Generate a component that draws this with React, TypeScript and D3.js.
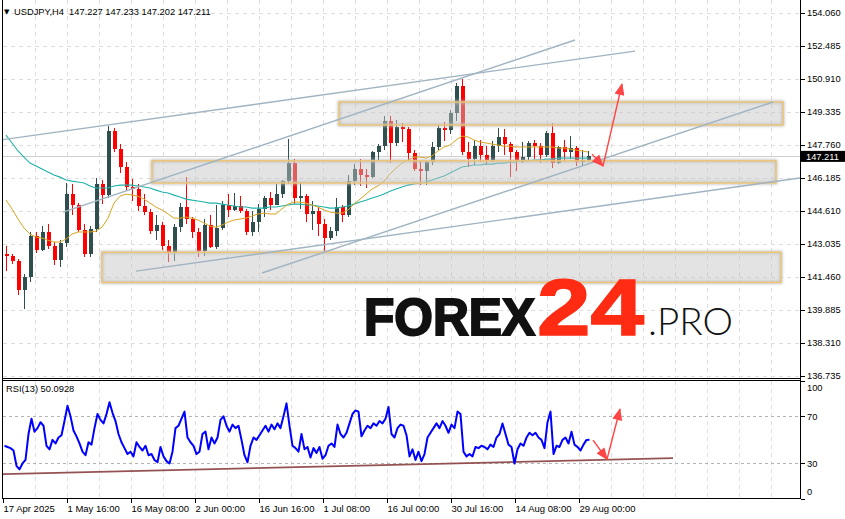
import React from "react";
import * as d3 from "d3";

// daily OHLC (H4 bars grouped by trading day, 17 Apr 2025 .. 1 Sep 2025)
const opens = [
  142.55, 142.45, 142.2, 140.85, 141.45, 143.4, 142.75, 143.6, 142.95, 142.25,
  143.05, 145.4, 144.9, 143.7, 142.55, 143.75, 145.9, 145.35, 148.4, 147.55,
  146.7, 145.75, 145.65, 144.85, 144.55, 143.65, 143.95, 142.95, 142.6, 143.85,
  144.8, 144.2, 143.6, 142.7, 143.95, 142.9, 143.8, 144.9, 144.65, 144.85,
  144.6, 143.6, 144.1, 144.7, 145.2, 144.9, 145.4, 146.05, 146.9, 145.2,
  145.3, 144.45, 144.6, 144.0, 143.3, 143.65, 144.8, 144.4, 146.05, 146.6,
  146.3, 146.25, 147.4, 147.7, 148.9, 147.85, 148.6, 148.5, 147.35, 146.6,
  146.5, 146.95, 147.65, 148.55, 148.45, 149.3, 150.55, 147.4, 147.1, 147.7,
  147.3, 147.05, 147.7, 148.15, 147.8, 147.4, 147.0, 147.2, 147.85, 147.7,
  147.3, 148.35, 146.9, 147.65, 147.4, 147.6, 146.95, 147.05,
];
const highs = [
  142.95, 142.55, 142.3, 141.6, 143.6, 143.6, 143.9, 144.0, 143.1, 143.2,
  145.95, 145.9, 145.0, 144.0, 143.9, 146.2, 146.1, 148.65, 148.55, 147.8,
  146.95, 146.15, 145.9, 145.4, 144.7, 144.4, 144.1, 143.2, 144.0, 145.0,
  146.25, 144.3, 143.8, 144.2, 144.4, 144.9, 145.1, 145.4, 145.45, 145.3,
  144.7, 144.6, 144.95, 145.3, 145.5, 145.9, 146.1, 148.05, 147.1, 146.0,
  145.4, 145.1, 144.8, 144.2, 143.85, 145.2, 144.9, 146.3, 146.85, 147.1,
  146.6, 147.45, 147.8, 149.15, 149.15, 148.95, 148.8, 148.6, 147.5, 147.0,
  147.0, 147.9, 148.7, 148.85, 149.45, 150.7, 150.9, 147.9, 148.0, 148.0,
  147.7, 147.95, 148.55, 148.5, 147.9, 147.5, 147.9, 147.95, 148.0, 147.85,
  148.4, 148.8, 147.7, 148.0, 148.2, 147.7, 147.5, 147.45,
];
const lows = [
  141.75, 142.05, 140.6, 139.9, 141.2, 142.6, 142.7, 142.8, 142.0, 141.95,
  142.9, 144.4, 143.6, 142.4, 142.4, 143.6, 144.95, 145.2, 147.4, 146.4,
  145.6, 145.1, 144.6, 144.4, 143.5, 143.2, 142.75, 142.15, 142.2, 143.6,
  144.0, 143.3, 142.4, 142.45, 142.85, 142.8, 143.7, 144.3, 144.6, 144.5,
  143.45, 143.4, 143.6, 144.3, 144.65, 144.9, 145.2, 145.9, 144.95, 144.7,
  144.1, 143.7, 143.4, 142.7, 143.2, 143.4, 144.1, 144.3, 145.85, 145.8,
  145.7, 146.2, 147.0, 147.5, 146.9, 147.7, 147.9, 147.0, 146.5, 145.85,
  145.85, 146.8, 147.5, 147.95, 148.3, 148.9, 147.3, 146.7, 146.8, 146.95,
  146.8, 146.95, 147.4, 147.3, 146.25, 146.5, 146.9, 147.05, 147.1, 146.9,
  147.2, 146.65, 146.85, 146.95, 147.1, 146.75, 146.8, 146.95,
];
const closes = [
  142.45, 142.2, 140.85, 141.45, 143.4, 142.75, 143.6, 142.95, 142.25, 143.05,
  145.4, 144.9, 143.7, 142.55, 143.75, 145.9, 145.35, 148.4, 147.55, 146.7,
  145.75, 145.65, 144.85, 144.55, 143.65, 143.95, 142.95, 142.6, 143.85, 144.8,
  144.2, 143.6, 142.7, 143.95, 142.9, 143.8, 144.9, 144.65, 144.85, 144.6,
  143.6, 144.1, 144.7, 145.2, 144.9, 145.4, 146.05, 146.9, 145.2, 145.3,
  144.45, 144.6, 144.0, 143.3, 143.65, 144.8, 144.4, 146.05, 146.6, 146.3,
  146.25, 147.4, 147.7, 148.9, 147.85, 148.6, 148.5, 147.35, 146.6, 146.5,
  146.95, 147.65, 148.55, 148.45, 149.3, 150.55, 147.4, 147.1, 147.7, 147.3,
  147.05, 147.7, 148.15, 147.8, 147.4, 147.0, 147.2, 147.85, 147.7, 147.3,
  148.35, 146.9, 147.65, 147.4, 147.6, 146.95, 147.05, 147.211,
];

// moving averages, one value per day
const maSlow = [
  148.23, 147.85, 147.47, 147.18, 146.89, 146.75, 146.61, 146.46, 146.32, 146.22,
  146.08, 146.03, 145.99, 145.94, 145.8, 145.7, 145.7, 145.7, 145.8, 145.84,
  145.84, 145.84, 145.8, 145.75, 145.7, 145.6, 145.51, 145.46, 145.36, 145.27,
  145.17, 145.12, 145.08, 145.03, 144.98, 144.98, 144.93, 144.89, 144.84, 144.79,
  144.79, 144.74, 144.74, 144.74, 144.79, 144.79, 144.84, 144.89, 144.93, 144.93,
  144.89, 144.89, 144.84, 144.79, 144.74, 144.74, 144.79, 144.84, 144.93, 145.03,
  145.12, 145.22, 145.31, 145.41, 145.55, 145.65, 145.75, 145.84, 145.89, 145.94,
  145.99, 146.08, 146.18, 146.27, 146.42, 146.56, 146.7, 146.75, 146.8, 146.8,
  146.84, 146.84, 146.89, 146.89, 146.94, 146.94, 146.99, 146.99, 147.03, 147.03,
  147.08, 147.08, 147.13, 147.13, 147.13, 147.13, 147.13, 147.13,
];
const maFast = [
  145.13, 144.7, 144.22, 143.79, 143.5, 143.36, 143.31, 143.21, 143.12, 143.12,
  143.26, 143.5, 143.6, 143.6, 143.6, 143.64, 143.83, 144.26, 144.98, 145.31,
  145.41, 145.36, 145.31, 145.17, 144.98, 144.79, 144.65, 144.46, 144.26, 144.26,
  144.31, 144.26, 144.17, 144.03, 143.88, 143.83, 143.93, 144.07, 144.17, 144.22,
  144.26, 144.36, 144.46, 144.5, 144.46, 144.46, 144.7, 144.93, 145.03, 145.03,
  144.98, 144.89, 144.79, 144.65, 144.55, 144.5, 144.5, 144.65, 144.93, 145.17,
  145.41, 145.65, 145.8, 146.03, 146.37, 146.65, 146.89, 147.03, 147.18, 147.18,
  147.13, 147.23, 147.47, 147.66, 147.75, 147.99, 148.18, 148.14, 147.99, 147.9,
  147.85, 147.8, 147.75, 147.7, 147.7, 147.66, 147.66, 147.66, 147.66, 147.66,
  147.66, 147.66, 147.61, 147.61, 147.56, 147.51, 147.47, 147.42,
];

// RSI(13), two readings per day
const rsiValues = [
  45, 44, 43, 41, 28, 25, 30, 33, 55, 68,
  57, 60, 65, 62, 45, 42, 50, 47, 52, 54,
  66, 79, 70, 58, 53, 47, 40, 37, 48, 46,
  60, 72, 67, 64, 72, 82, 73, 66, 55, 48,
  43, 38, 40, 36, 48, 44, 41, 45, 37, 38,
  33, 31, 44, 36, 32, 30, 40, 60, 62, 68,
  74, 52, 48, 45, 38, 40, 55, 57, 42, 52,
  47, 52, 67, 70, 62, 57, 63, 60, 62, 50,
  37, 31, 45, 52, 50, 54, 58, 62, 57, 63,
  59, 64, 60, 70, 81, 62, 45, 43, 40, 55,
  42, 44, 35, 43, 39, 44, 34, 37, 45, 47,
  44, 63, 55, 52, 56, 64, 72, 75, 74, 53,
  58, 62, 60, 64, 62, 66, 64, 68, 78, 55,
  52, 60, 63, 62, 54, 36, 42, 33, 40, 32,
  38, 52, 56, 60, 64, 60, 66, 62, 56, 63,
  60, 74, 72, 40, 36, 38, 36, 44, 43, 45,
  44, 42, 46, 44, 52, 55, 64, 55, 46, 44,
  30, 42, 47, 45, 52, 56, 54, 56, 52, 50,
  43, 65, 74, 38, 45, 44, 50, 52, 47, 57,
  46, 44, 41, 46, 50, 50.09,
];

const priceTicks = [154.06, 152.485, 150.91, 149.335, 147.76, 146.185, 144.61, 143.035, 141.46, 139.885, 138.31, 136.735];
const rsiTicks = [100, 70, 30, 0];
const rsiLevels = [70, 30];
const timeLabels = ["17 Apr 2025", "1 May 16:00", "16 May 08:00", "2 Jun 00:00", "16 Jun 16:00", "1 Jul 08:00", "16 Jul 00:00", "30 Jul 16:00", "14 Aug 08:00", "29 Aug 00:00"];
const timeLabelBars = [0, 64, 128, 192, 256, 320, 384, 448, 512, 576];

// drawn objects, in (H4 bar index, price) units
const trendLines = [
  [[-3, 147.99], [632, 152.24]],
  [[60, 144.55], [572, 152.77]],
  [[133, 141.73], [797, 146.18]],
  [[259, 141.64], [770, 149.81]],
];
const zones = [
  { from: 149, to: 773, top: 147.0, bottom: 145.94 },
  { from: 336, to: 780, top: 149.81, bottom: 148.71 },
  { from: 99, to: 778, top: 142.63, bottom: 141.19 },
];
const priceArrows = [
  [[589, 147.32], [600, 146.75]],
  [[600, 146.75], [619, 150.67]],
];
const rsiArrows = [
  [[590, 49.8], [604, 33.6]],
  [[604, 33.6], [617, 76.2]],
];
const rsiTrend = [[0, 20.9], [670, 34.5]];

const lastPrice = 147.211;
const FONT = "'Liberation Sans', Arial, sans-serif";

export default function App() {
  const W = 845;
  const H = 519;
  const left = 3;
  const right = 800;
  const mainBottom = 379;
  const rsiTop = 381;
  const rsiBottom = 498.5;

  const x = d3.scaleLinear().domain([0, 797]).range([left, right]);
  const y = d3.scaleLinear().domain([136.735, 154.06]).range([375.7, 13]);
  const yr = d3.scaleLinear().domain([0, 100]).range([498.8, 381]);

  const dayBar = (i: number) => i * 6 + 3;
  const rsiBar = (k: number) => k * 3 + 1.5;

  const maLine = d3
    .line<number>()
    .x((_, i) => x(dayBar(i)))
    .y((d) => y(d));
  const rsiLine = d3
    .line<number>()
    .x((_, i) => x(rsiBar(i)))
    .y((d) => yr(d));

  const gridBars = d3.range(32, 797, 32);

  return (
    <svg width={W} height={H} style={{ display: "block", position: "absolute", left: 0, top: 0, background: "#fff" }}>
      <defs>
        <clipPath id="mainClip">
          <rect x={left} y={0} width={right - left} height={mainBottom} />
        </clipPath>
        <clipPath id="rsiClip">
          <rect x={left} y={rsiTop} width={right - left} height={rsiBottom - rsiTop} />
        </clipPath>
        <filter id="soft" x="-5%" y="-50%" width="110%" height="200%">
          <feGaussianBlur stdDeviation="1.6" />
        </filter>
        <marker id="arrowHead" viewBox="0 0 12 10" refX="11" refY="5" markerWidth="13" markerHeight="10" markerUnits="userSpaceOnUse" orient="auto">
          <path d="M0,0 L12,5 L0,10 z" fill="#ff4545" />
        </marker>
      </defs>

      {/* grid */}
      <g stroke="#dedede" strokeDasharray="4,4" shapeRendering="crispEdges">
        {gridBars.map((b) => (
          <g key={b}>
            <line x1={Math.round(x(b)) + 0.5} x2={Math.round(x(b)) + 0.5} y1={0} y2={mainBottom} />
            <line x1={Math.round(x(b)) + 0.5} x2={Math.round(x(b)) + 0.5} y1={rsiTop} y2={rsiBottom} />
          </g>
        ))}
        {priceTicks.map((p) => (
          <line key={p} x1={left} x2={right} y1={Math.round(y(p)) + 0.5} y2={Math.round(y(p)) + 0.5} />
        ))}
      </g>

      <g clipPath="url(#mainClip)">
        {/* bid line */}
        <line x1={left} x2={right} y1={Math.round(y(lastPrice)) + 0.5} y2={Math.round(y(lastPrice)) + 0.5} stroke="#cfcfcf" shapeRendering="crispEdges" />

        {/* candles */}
        {opens.map((o, i) => {
          const c = closes[i];
          const col = c >= o ? "#2f4f4f" : "#ff0000";
          const cx = Math.round(x(dayBar(i)));
          const top = y(Math.max(o, c));
          const bot = y(Math.min(o, c));
          return (
            <g key={i} shapeRendering="crispEdges">
              <line x1={cx + 0.5} x2={cx + 0.5} y1={y(highs[i])} y2={y(lows[i])} stroke={col} />
              <rect x={cx - 1.5} y={top} width={4} height={Math.max(1, bot - top)} fill={col} />
            </g>
          );
        })}

        {/* moving averages */}
        <path d={maLine(maSlow) || ""} fill="none" stroke="#20b2aa" strokeWidth={1.1} />
        <path d={maLine(maFast) || ""} fill="none" stroke="#daa520" strokeWidth={1} />

        {/* zones */}
        {zones.map((z, i) => {
          const zx = x(z.from);
          const zy = y(z.top);
          const zw = x(z.to) - x(z.from);
          const zh = y(z.bottom) - y(z.top);
          return (
            <g key={i}>
              <rect x={zx} y={zy} width={zw} height={zh} fill="none" stroke="#b8b8b8" strokeWidth={2.5} filter="url(#soft)" />
              <rect x={zx} y={zy} width={zw} height={zh} fill="#c4c4c4" fillOpacity={0.47} stroke="#f1c46c" strokeWidth={1.3} />
            </g>
          );
        })}

        {/* trend lines */}
        {trendLines.map((l, i) => (
          <line key={i} x1={x(l[0][0])} y1={y(l[0][1])} x2={x(l[1][0])} y2={y(l[1][1])} stroke="#9fb3c1" strokeWidth={1.4} />
        ))}

        {/* forecast arrows */}
        {priceArrows.map((a, i) => (
          <line key={i} x1={x(a[0][0])} y1={y(a[0][1])} x2={x(a[1][0])} y2={y(a[1][1])} stroke="#ff4545" strokeWidth={1.4} markerEnd="url(#arrowHead)" />
        ))}
      </g>

      {/* RSI panel */}
      <g clipPath="url(#rsiClip)">
        {rsiLevels.map((v) => (
          <line key={v} x1={left} x2={right} y1={Math.round(yr(v)) + 0.5} y2={Math.round(yr(v)) + 0.5} stroke="#b4b4b4" strokeDasharray="3,3" shapeRendering="crispEdges" />
        ))}
        <line x1={x(rsiTrend[0][0])} y1={yr(rsiTrend[0][1])} x2={x(rsiTrend[1][0])} y2={yr(rsiTrend[1][1])} stroke="#8a4040" strokeWidth={1.8} opacity={0.9} />
        <path d={rsiLine(rsiValues) || ""} fill="none" stroke="#0000ff" strokeWidth={2} strokeLinejoin="round" />
        {rsiArrows.map((a, i) => (
          <line key={i} x1={x(a[0][0])} y1={yr(a[0][1])} x2={x(a[1][0])} y2={yr(a[1][1])} stroke="#ff4545" strokeWidth={1.4} markerEnd="url(#arrowHead)" />
        ))}
      </g>

      {/* logo */}
      <g>
        <text x={364} y={335} fontFamily={FONT} fontWeight={700} fontSize={51} fill="#111" stroke="#111" strokeWidth={2} textLength={171} lengthAdjust="spacingAndGlyphs">
          FOREX
        </text>
        <text x={537} y={335} fontFamily={FONT} fontWeight={700} fontSize={79} fill="#ff2b12" stroke="#ff2b12" strokeWidth={1.5} textLength={107} lengthAdjust="spacingAndGlyphs">
          24
        </text>
        <text x={648} y={335} fontFamily="Lato, 'Open Sans', sans-serif" fontWeight={300} fontSize={38} fill="#111" textLength={85} lengthAdjust="spacingAndGlyphs">
          .PRO
        </text>
      </g>

      {/* frame */}
      <g stroke="#000" fill="none" shapeRendering="crispEdges">
        <line x1={2.5} x2={2.5} y1={0} y2={rsiBottom} />
        <line x1={800.5} x2={800.5} y1={0} y2={rsiBottom} />
        <line x1={2.5} x2={800.5} y1={378.5} y2={378.5} />
        <line x1={2.5} x2={800.5} y1={380.5} y2={380.5} />
        <line x1={2.5} x2={800.5} y1={rsiBottom} y2={rsiBottom} />
      </g>

      {/* price axis */}
      <g fontFamily={FONT} fontSize={9.3} fill="#000">
        {priceTicks.map((p) => (
          <g key={p}>
            <line x1={801} x2={805} y1={Math.round(y(p)) + 0.5} y2={Math.round(y(p)) + 0.5} stroke="#000" shapeRendering="crispEdges" />
            <text x={807} y={y(p) + 3.3}>{p.toFixed(3)}</text>
          </g>
        ))}
        <rect x={801} y={y(lastPrice) - 5.5} width={44} height={11} fill="#000" />
        <text x={806} y={y(lastPrice) + 3.6} fill="#fff">{lastPrice.toFixed(3)}</text>
      </g>

      {/* RSI axis */}
      <g fontFamily={FONT} fontSize={9.3} fill="#000">
        {rsiTicks.map((v) => (
          <g key={v}>
            <line x1={801} x2={805} y1={Math.round(yr(v)) + 0.5} y2={Math.round(yr(v)) + 0.5} stroke="#000" shapeRendering="crispEdges" />
            <text x={807} y={v === 100 ? yr(v) + 9.5 : v === 0 ? yr(v) - 3.5 : yr(v) + 3.3}>{v}</text>
          </g>
        ))}
      </g>

      {/* time axis */}
      <g fontFamily={FONT} fontSize={9.5} fill="#000">
        {timeLabels.map((t, i) => (
          <g key={t}>
            <line x1={Math.round(x(timeLabelBars[i])) + 0.5} x2={Math.round(x(timeLabelBars[i])) + 0.5} y1={rsiBottom} y2={rsiBottom + 4} stroke="#000" shapeRendering="crispEdges" />
            <text x={x(timeLabelBars[i]) + 0.5} y={512}>{t}</text>
          </g>
        ))}
      </g>

      {/* headers */}
      <text x={4} y={14} fontFamily="'DejaVu Sans', sans-serif" fontSize={7} fill="#000">▼</text>
      <text x={14} y={15} fontFamily={FONT} fontSize={9.3} fill="#000" style={{ whiteSpace: "pre" }}>
        {"USDJPY,H4  147.227 147.233 147.202 147.211"}
      </text>
      <text x={6} y={392} fontFamily={FONT} fontSize={9.3} fill="#000">RSI(13) 50.0928</text>
    </svg>
  );
}
